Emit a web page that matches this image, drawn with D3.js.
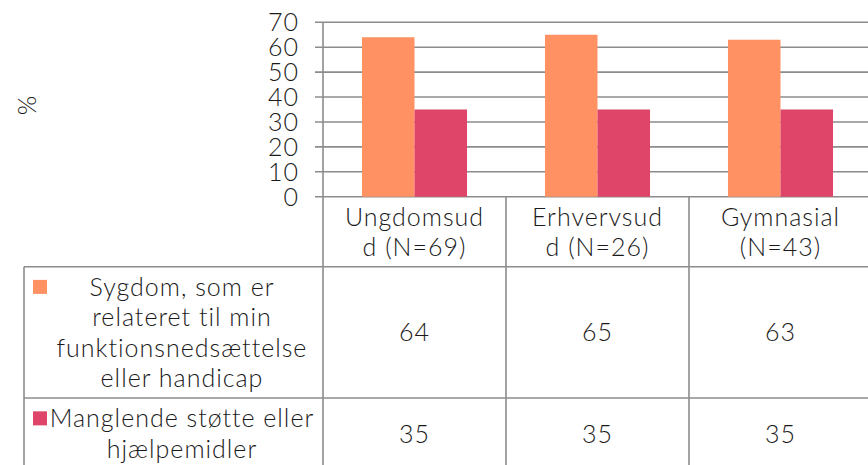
<!DOCTYPE html>
<html>
<head>
<meta charset="utf-8">
<script src="https://cdn.jsdelivr.net/npm/d3@7"></script>
<style>
    body { margin: 0; background: #fff; }
    #plot text { font-family: Lato, 'Open Sans', sans-serif; font-weight: 300; fill: #1a1a1a; letter-spacing: 1px; }
</style>
</head>
<body>
<div id="plot"></div>
<script>
// Data
const categories = ['Ungdomsudd (N=69)', 'Erhvervsudd (N=26)', 'Gymnasial (N=43)'];
const categoryLines = [['Ungdomsud', 'd (N=69)'], ['Erhvervsud', 'd (N=26)'], ['Gymnasial', '(N=43)']];
const seriesNames = ['Sygdom, som er relateret til min funktionsnedsættelse eller handicap', 'Manglende støtte eller hjælpemidler'];
const seriesLines = [
    ['Sygdom, som er', 'relateret til min', 'funktionsnedsættelse', 'eller handicap'],
    ['Manglende støtte eller', 'hjælpemidler']
];
const sygdomValues = [64, 65, 63];
const stotteValues = [35, 35, 35];
const yTicks = [0, 10, 20, 30, 40, 50, 60, 70];
const colors = ['#ff9163', '#de4568'];

document.addEventListener('DOMContentLoaded', function () {
    const width = 868, height = 465;
    const plotLeft = 323, plotTop = 22.3, plotBottom = 196.7, plotRight = 872;
    const tableLeft = 24;
    const headerBottom = 266.7;
    const rowBottoms = [398, 469];
    const lineGap = 30.3;
    const fontSize = 25;
    const gridColor = '#8c8c8c';

    const values = [sygdomValues, stotteValues];

    const svg = d3.select('#plot').append('svg')
        .attr('width', width)
        .attr('height', height)
        .style('font-size', fontSize + 'px');

    // scales
    const x0 = d3.scaleBand().domain(categories).range([plotLeft, plotRight])
        .paddingInner(0.426).paddingOuter(0.213);
    const x1 = d3.scaleBand().domain(seriesNames).range([0, x0.bandwidth()]);
    const y = d3.scaleLinear().domain([0, 70]).range([plotBottom, plotTop]);
    const col = d3.scaleBand().domain(categories).range([plotLeft, plotRight]);

    // gridlines + tick marks
    svg.append('g').selectAll('line').data(yTicks).enter().append('line')
        .attr('x1', plotLeft - 8).attr('x2', plotRight)
        .attr('y1', d => y(d)).attr('y2', d => y(d))
        .attr('stroke', gridColor).attr('stroke-width', 1.6);

    // y axis labels
    svg.append('g').selectAll('text').data(yTicks).enter().append('text')
        .attr('x', 299).attr('y', d => y(d))
        .attr('dy', '0.36em')
        .attr('text-anchor', 'end')
        .text(d => d);

    svg.append('text')
        .attr('transform', 'translate(27,105) rotate(-90)')
        .attr('text-anchor', 'middle')
        .attr('dy', '0.35em')
        .text('%');

    // bars
    const groups = svg.append('g').selectAll('g').data(categories).enter().append('g')
        .attr('transform', d => 'translate(' + x0(d) + ',0)');
    groups.selectAll('rect').data((d, i) => seriesNames.map((s, j) => ({ s: s, v: values[j][i], j: j })))
        .enter().append('rect')
        .attr('x', d => x1(d.s))
        .attr('width', x1.bandwidth())
        .attr('y', d => y(d.v))
        .attr('height', d => y(0) - y(d.v))
        .attr('fill', d => colors[d.j]);

    // table lines
    const lines = svg.append('g').attr('stroke', gridColor).attr('stroke-width', 1.6);
    lines.append('line').attr('x1', plotLeft).attr('x2', plotLeft).attr('y1', plotTop).attr('y2', height);
    lines.append('line').attr('x1', tableLeft).attr('x2', tableLeft).attr('y1', headerBottom).attr('y2', height);
    lines.selectAll('.vcol').data(categories.slice(1)).enter().append('line')
        .attr('x1', d => col(d)).attr('x2', d => col(d))
        .attr('y1', plotBottom).attr('y2', height);
    lines.selectAll('.hrow').data([headerBottom, rowBottoms[0]]).enter().append('line')
        .attr('x1', tableLeft).attr('x2', plotRight)
        .attr('y1', d => d).attr('y2', d => d);

    // header labels
    categories.forEach(function (c, i) {
        const mid = (plotBottom + headerBottom) / 2;
        const t = svg.append('text').attr('text-anchor', 'middle');
        categoryLines[i].forEach(function (ln, k) {
            t.append('tspan')
                .attr('x', col(c) + col.bandwidth() / 2)
                .attr('y', mid + (k - (categoryLines[i].length - 1) / 2) * lineGap)
                .attr('dy', '0.36em')
                .text(ln);
        });
    });

    // table rows: legend + values
    const rowTops = [headerBottom, rowBottoms[0]];
    seriesNames.forEach(function (s, j) {
        const mid = (rowTops[j] + rowBottoms[j]) / 2;
        const n = seriesLines[j].length;
        const firstY = mid - (n - 1) / 2 * lineGap;
        svg.append('rect')
            .attr('x', 33).attr('y', firstY - 7)
            .attr('width', 14).attr('height', 14)
            .attr('fill', colors[j]);
        const t = svg.append('text').attr('text-anchor', 'middle');
        seriesLines[j].forEach(function (ln, k) {
            t.append('tspan')
                .attr('x', 182)
                .attr('y', firstY + k * lineGap)
                .attr('dy', '0.36em')
                .text(ln);
        });
        svg.append('g').selectAll('text').data(categories).enter().append('text')
            .attr('x', d => col(d) + col.bandwidth() / 2)
            .attr('y', mid)
            .attr('dy', '0.36em')
            .attr('text-anchor', 'middle')
            .text((d, i) => values[j][i]);
    });
});
</script>
</body>
</html>
